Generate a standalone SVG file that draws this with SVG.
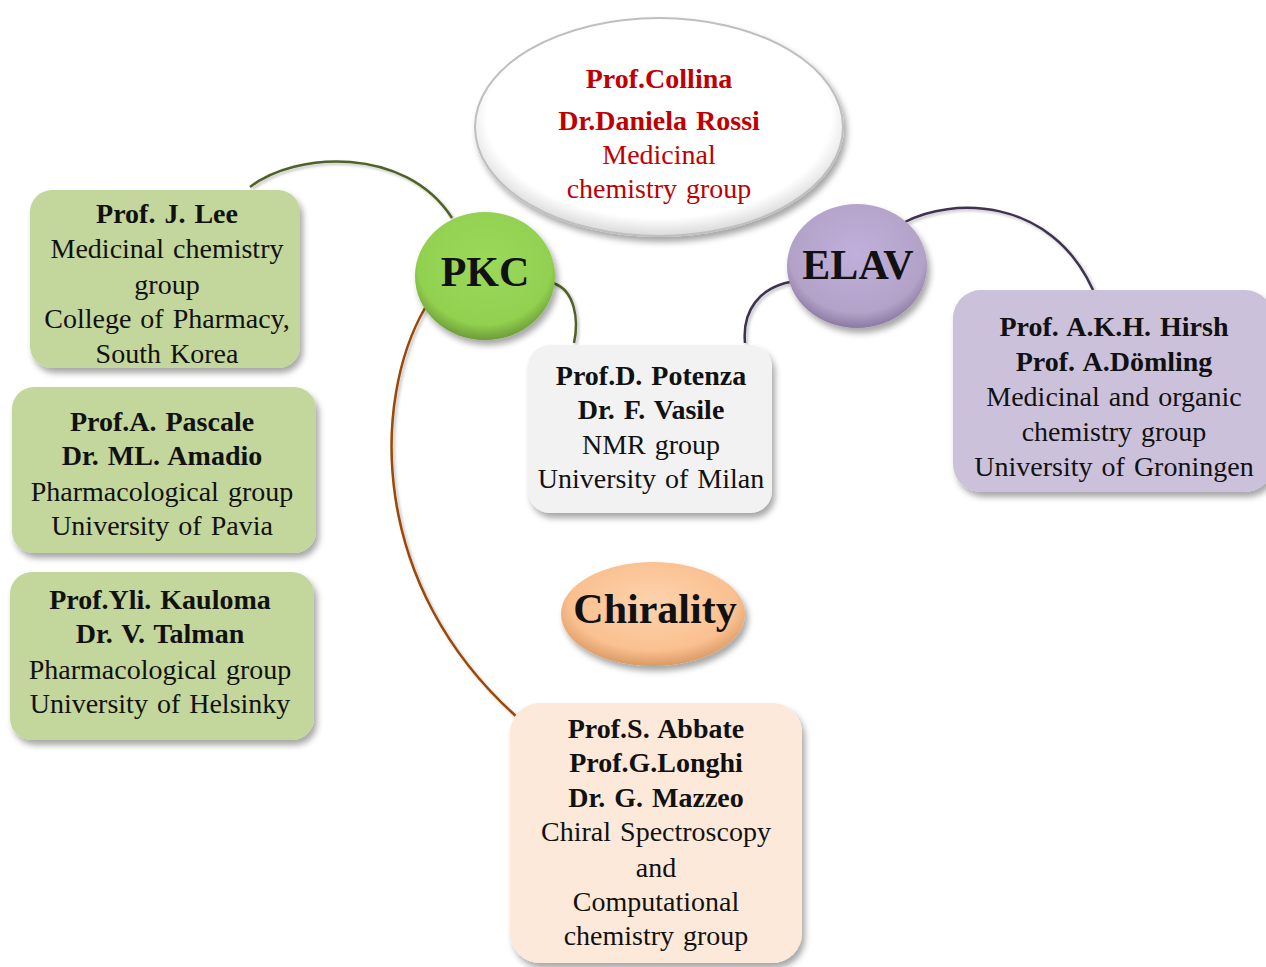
<svg xmlns="http://www.w3.org/2000/svg" width="1266" height="967" viewBox="0 0 1266 967">
<style>
text{font-family:"Liberation Serif","Times New Roman",serif;font-size:28px;text-anchor:middle;fill:#111;word-spacing:2px}
.b{font-weight:bold}
.red{fill:#c00000}
.big{font-size:42px;font-weight:bold}
.con{fill:none;stroke-width:2.5}
</style>
<defs>
<filter id="sh" x="-20%" y="-20%" width="140%" height="150%">
<feDropShadow dx="3" dy="5" stdDeviation="3" flood-color="#000" flood-opacity="0.35"/>
</filter>
<filter id="lsh" x="-20%" y="-20%" width="140%" height="140%">
<feDropShadow dx="2" dy="2" stdDeviation="1.5" flood-color="#000" flood-opacity="0.25"/>
</filter>
<radialGradient id="gG" cx="50%" cy="40%" r="60%">
<stop offset="0" stop-color="#9ad95a"/><stop offset="0.8" stop-color="#92d050"/><stop offset="1" stop-color="#6c9c38"/>
</radialGradient>
<radialGradient id="gP" cx="50%" cy="40%" r="60%">
<stop offset="0" stop-color="#bfb0dc"/><stop offset="0.8" stop-color="#b3a2c7"/><stop offset="1" stop-color="#8a7aa3"/>
</radialGradient>
<radialGradient id="gO" cx="50%" cy="40%" r="60%">
<stop offset="0" stop-color="#fdd3ad"/><stop offset="0.75" stop-color="#fac090"/><stop offset="1" stop-color="#d99a64"/>
</radialGradient>
<radialGradient id="gW" cx="50%" cy="45%" r="55%">
<stop offset="0" stop-color="#ffffff"/><stop offset="0.85" stop-color="#ffffff"/><stop offset="1" stop-color="#d9d9d9"/>
</radialGradient>
</defs>
<rect width="1266" height="967" fill="#fff"/>

<g id="connectors">
<path class="con" stroke="#4f6228" d="M250,187 C295,152 405,145 452,218" filter="url(#lsh)"/>
<path class="con" stroke="#4f6228" d="M553,283 C575,290 579,320 574,343" filter="url(#lsh)"/>
<path class="con" stroke="#984807" d="M425,308 C372,400 368,585 518,718" filter="url(#lsh)"/>
<path class="con" stroke="#3f3151" d="M790,282 C760,288 742,310 745,343" filter="url(#lsh)"/>
<path class="con" stroke="#3f3151" d="M905,222 C950,198 1050,195 1093,290" filter="url(#lsh)"/>
</g>

<g id="collina">
<ellipse cx="659" cy="127" rx="184" ry="109" fill="url(#gW)" stroke="#bfbfbf" stroke-width="2" filter="url(#sh)"/>
<text x="659" y="88" class="b red">Prof.Collina</text>
<text x="659" y="130" class="b red">Dr.Daniela Rossi</text>
<text x="659" y="164" class="red">Medicinal</text>
<text x="659" y="198" class="red">chemistry group</text>
</g>

<g id="pkc">
<ellipse cx="485" cy="276" rx="70" ry="64" fill="url(#gG)" filter="url(#sh)"/>
<text x="485" y="286" class="big">PKC</text>
</g>

<g id="elav">
<ellipse cx="857" cy="266" rx="70" ry="62" fill="url(#gP)" filter="url(#sh)"/>
<text x="858" y="279" class="big">ELAV</text>
</g>

<g id="chirality">
<ellipse cx="653" cy="614" rx="92" ry="52" fill="url(#gO)" filter="url(#sh)"/>
<text x="655" y="623" class="big">Chirality</text>
</g>

<g id="lee">
<rect x="30" y="190" width="270" height="178" rx="22" fill="#c3d69b" filter="url(#sh)"/>
<text x="167" y="223" class="b">Prof. J. Lee</text>
<text x="167" y="258">Medicinal chemistry</text>
<text x="167" y="294">group</text>
<text x="167" y="328">College of Pharmacy,</text>
<text x="167" y="363">South Korea</text>
</g>

<g id="pascale">
<rect x="12" y="387" width="304" height="166" rx="22" fill="#c3d69b" filter="url(#sh)"/>
<text x="162" y="431" class="b">Prof.A. Pascale</text>
<text x="162" y="465" class="b">Dr. ML. Amadio</text>
<text x="162" y="501">Pharmacological group</text>
<text x="162" y="535">University of Pavia</text>
</g>

<g id="kauloma">
<rect x="10" y="572" width="304" height="168" rx="22" fill="#c3d69b" filter="url(#sh)"/>
<text x="160" y="609" class="b">Prof.Yli. Kauloma</text>
<text x="160" y="643" class="b">Dr. V. Talman</text>
<text x="160" y="679">Pharmacological group</text>
<text x="160" y="713">University of Helsinky</text>
</g>

<g id="potenza">
<rect x="528" y="345" width="244" height="168" rx="22" fill="#f2f2f2" filter="url(#sh)"/>
<text x="651" y="385" class="b">Prof.D. Potenza</text>
<text x="651" y="419" class="b">Dr. F. Vasile</text>
<text x="651" y="454">NMR group</text>
<text x="651" y="488">University of Milan</text>
</g>

<g id="hirsh">
<rect x="953" y="290" width="320" height="202" rx="28" fill="#ccc1da" filter="url(#sh)"/>
<text x="1114" y="336" class="b">Prof. A.K.H. Hirsh</text>
<text x="1114" y="371" class="b">Prof. A.Dömling</text>
<text x="1114" y="406">Medicinal and organic</text>
<text x="1114" y="441">chemistry group</text>
<text x="1114" y="476">University of Groningen</text>
</g>

<g id="abbate">
<rect x="510" y="703" width="292" height="260" rx="30" fill="#fde9d9" filter="url(#sh)"/>
<text x="656" y="738" class="b">Prof.S. Abbate</text>
<text x="656" y="772" class="b">Prof.G.Longhi</text>
<text x="656" y="807" class="b">Dr. G. Mazzeo</text>
<text x="656" y="841">Chiral Spectroscopy</text>
<text x="656" y="877">and</text>
<text x="656" y="911">Computational</text>
<text x="656" y="945">chemistry group</text>
</g>
</svg>
